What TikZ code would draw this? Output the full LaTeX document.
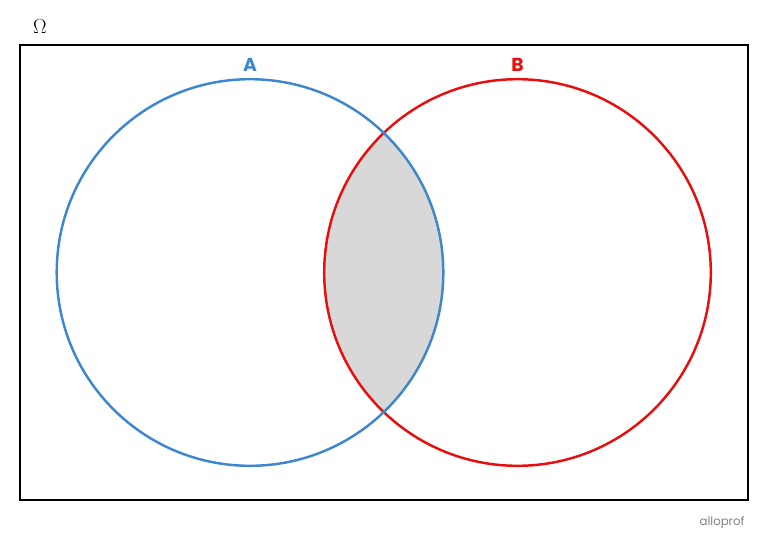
\documentclass[tikz,border=0pt]{standalone}
\usepackage{fontspec}
\newfontfamily\labelfont{Poppins}
\newfontfamily\logofont{Poppins}
\usetikzlibrary{positioning}
\definecolor{setA}{RGB}{62,135,206}
\definecolor{setB}{RGB}{232,14,14}
\definecolor{inter}{RGB}{216,216,216}

\begin{document}
\begin{tikzpicture}[x=0.03cm,y=-0.03cm,
        setlabel/.style={font=\labelfont\fontsize{16}{16}\selectfont\bfseries},
        setcircle/.style={line width=2.1pt}]

                \useasboundingbox (0,0) rectangle (768,550);

                % universe
                \node[draw,line width=1.6pt,minimum width=728*0.03cm,minimum height=455*0.03cm,inner sep=0pt] (omega) at (384,272.5) {};
                \node[font=\fontsize{17}{17}\selectfont] (omegalabel) at (40,27) {$\Omega$};

                % intersection
                \begin{scope}
                    \clip (250,272.5) circle (193.3*0.03cm);
                    \fill[inter] (517.5,272.5) circle (193.3*0.03cm);
                \end{scope}

                \draw[setcircle,setB] (517.5,272.5) circle (193.3*0.03cm);
                \draw[setcircle,setA] (250,272.5) circle (193.3*0.03cm);

                \node[setlabel,text=setA] (labelA) at (250,65) {A};
                \node[setlabel,text=setB] (labelB) at (517.5,65) {B};

                \node[font=\logofont\fontsize{10}{10}\selectfont,text=gray] (logo) at (722,523) {alloprof};

            \end{tikzpicture}
\end{document}
